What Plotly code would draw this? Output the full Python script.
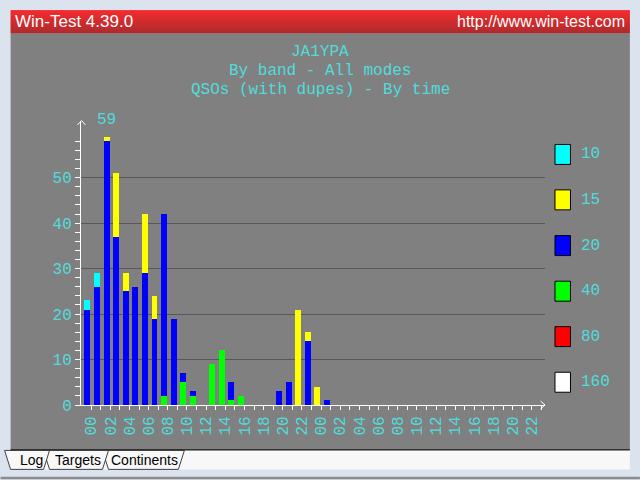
import plotly.graph_objects as go

# ---------------- data ----------------
hours = list(range(48))
x_tick_hours = [0, 2, 4, 6, 8, 10, 12, 14, 16, 18, 20, 22,
                24, 26, 28, 30, 32, 34, 36, 38, 40, 42, 44, 46]
x_tick_labels = ["00", "02", "04", "06", "08", "10", "12", "14", "16", "18", "20", "22",
                 "00", "02", "04", "06", "08", "10", "12", "14", "16", "18", "20", "22"]
y_tick_vals = [0, 10, 20, 30, 40, 50]
y_tick_labels = ["0", "10", "20", "30", "40", "50"]
max_label = "59"

q160 = [0, 0, 0, 0, 0, 0, 0, 0, 0, 0, 0, 0, 0, 0, 0, 0, 0, 0, 0, 0, 0, 0, 0, 0,
        0, 0, 0, 0, 0, 0, 0, 0, 0, 0, 0, 0, 0, 0, 0, 0, 0, 0, 0, 0, 0, 0, 0, 0]
q80 = [0, 0, 0, 0, 0, 0, 0, 0, 0, 0, 0, 0, 0, 0, 0, 0, 0, 0, 0, 0, 0, 0, 0, 0,
       0, 0, 0, 0, 0, 0, 0, 0, 0, 0, 0, 0, 0, 0, 0, 0, 0, 0, 0, 0, 0, 0, 0, 0]
q40 = [0, 0, 0, 0, 0, 0, 0, 0, 2, 0, 5, 2, 0, 9, 12, 1, 2, 0, 0, 0, 0, 0, 0, 0,
       0, 0, 0, 0, 0, 0, 0, 0, 0, 0, 0, 0, 0, 0, 0, 0, 0, 0, 0, 0, 0, 0, 0, 0]
q20 = [21, 26, 58, 37, 25, 26, 29, 19, 40, 19, 2, 1, 0, 0, 0, 4, 0, 0, 0, 0, 3, 5, 0, 14,
       0, 1, 0, 0, 0, 0, 0, 0, 0, 0, 0, 0, 0, 0, 0, 0, 0, 0, 0, 0, 0, 0, 0, 0]
q15 = [0, 0, 1, 14, 4, 0, 13, 5, 0, 0, 0, 0, 0, 0, 0, 0, 0, 0, 0, 0, 0, 0, 21, 2,
       4, 0, 0, 0, 0, 0, 0, 0, 0, 0, 0, 0, 0, 0, 0, 0, 0, 0, 0, 0, 0, 0, 0, 0]
q10 = [2, 3, 0, 0, 0, 0, 0, 0, 0, 0, 0, 0, 0, 0, 0, 0, 0, 0, 0, 0, 0, 0, 0, 0,
       0, 0, 0, 0, 0, 0, 0, 0, 0, 0, 0, 0, 0, 0, 0, 0, 0, 0, 0, 0, 0, 0, 0, 0]

band_names = ["10", "15", "20", "40", "80", "160"]

# ---------------- styles ----------------
CYAN = "#50dcdc"
GRAY = "#808080"
FRAME = "#dbe4ee"
band_colors = {"10": "#00ffff", "15": "#ffff00", "20": "#0000ff",
               "40": "#00ff00", "80": "#ff0000", "160": "#ffffff"}
MONO = "Liberation Mono, Courier New, monospace"
HEAD = "Liberation Sans, Arial, sans-serif"
SANS = "Liberation Sans, Arial, sans-serif"

W, H = 640, 480
AX_LEFT, AX_RIGHT = 80.5, 545.0
AX_TOP, AX_BOTTOM = 121.0, 405.5
HOUR0_PX, PX_PER_HOUR = 90.7, 9.59
PX_PER_UNIT = 4.554

x_range = [(AX_LEFT - HOUR0_PX) / PX_PER_HOUR, (AX_RIGHT - HOUR0_PX) / PX_PER_HOUR]
y_range = [0, (AX_BOTTOM - AX_TOP) / PX_PER_UNIT]
PW, PH = AX_RIGHT - AX_LEFT, AX_BOTTOM - AX_TOP


def fx(px):
    return (px - AX_LEFT) / PW


def fy(py):
    return (AX_BOTTOM - py) / PH


fig = go.Figure()
stack = [("160", q160), ("80", q80), ("40", q40), ("20", q20), ("15", q15), ("10", q10)]
for name, vals in stack:
    fig.add_bar(x=hours, y=vals, name=name, marker_color=band_colors[name],
                marker_line_width=0, width=0.62, offset=-0.70,
                showlegend=False, hoverinfo="skip")

shapes = []


def rect(x0, y0, x1, y1, fill, line=None, lw=0, layer="below"):
    d = dict(type="rect", xref="paper", yref="paper",
             x0=fx(x0), x1=fx(x1), y0=fy(y0), y1=fy(y1),
             fillcolor=fill, layer=layer, line=dict(width=lw, color=line or fill))
    shapes.append(d)


def poly(pts, fill, line, lw=1, layer="below"):
    path = "M " + " L ".join(f"{fx(a):.5f},{fy(b):.5f}" for a, b in pts) + " Z"
    shapes.append(dict(type="path", xref="paper", yref="paper", path=path,
                       fillcolor=fill, line=dict(color=line, width=lw), layer=layer))


def seg(pts, color, lw=1, layer="above"):
    path = "M " + " L ".join(f"{fx(a):.5f},{fy(b):.5f}" for a, b in pts)
    shapes.append(dict(type="path", xref="paper", yref="paper", path=path,
                       line=dict(color=color, width=lw), layer=layer))


# gray panel
rect(10, 33, 630, 450, GRAY)
# red header gradient
n = 23
for i in range(n):
    r = int(250 - (250 - 165) * i / (n - 1))
    rect(10, 10 + i, 630, 11 + i, f"rgb({r},0,0)")
# bottom separator and tab strip
rect(10, 451, 630, 470, "#f8f8f8")
rect(0, 477.5, 640, 480, "#8c8c8c")
# tabs (back to front)
poly([(102, 451), (108, 470), (178, 470), (184, 451)], "#f8f8f8", "#404040")
poly([(43, 451), (49, 470), (102, 470), (108, 451)], "#f8f8f8", "#404040")
poly([(4, 451), (10, 470), (43, 470), (49, 451)], "#f8f8f8", "#404040")
rect(10, 449.5, 630, 451, "#303030")

# axis arrowheads
seg([(77, 125), (81, 120.5), (85, 125)], "white", 1)
seg([(540.5, 401.5), (545, 405.5), (540.5, 409.5)], "white", 1)

# legend boxes
legend_y = [154.5, 200, 245.8, 291.5, 337, 382.7]
for name, cy in zip(band_names, legend_y):
    rect(555, cy - 10, 570.5, cy + 10, band_colors[name], line="black", lw=1, layer="above")

annotations = []


def text(s, x, y, xanchor="left", size=16, color=CYAN, family=MONO):
    annotations.append(dict(text=s, x=fx(x), y=fy(y), xref="paper", yref="paper",
                            xanchor=xanchor, yanchor="middle", showarrow=False,
                            font=dict(size=size, color=color, family=family)))


text("Win-Test 4.39.0", 12, 21.5, "left", 17, "white", HEAD)
text("http://www.win-test.com", 627, 21.5, "right", 16, "white", HEAD)
text("JA1YPA", 320, 52, "center")
text("By band - All modes", 320, 71, "center")
text("QSOs (with dupes) - By time", 320, 90, "center")
text(max_label, 106, 120, "center")
for name, cy in zip(band_names, legend_y):
    text(name, 579, cy, "left")
text("Log", 17, 461, "left", 14, "black", SANS)
text("Targets", 52, 461, "left", 14, "black", SANS)
text("Continents", 109, 461, "left", 14, "black", SANS)

fig.update_layout(
    barmode="stack", bargap=0,
    width=W, height=H,
    margin=dict(l=AX_LEFT, r=W - AX_RIGHT, t=AX_TOP, b=H - AX_BOTTOM, pad=0, autoexpand=False),
    paper_bgcolor=FRAME, plot_bgcolor=GRAY,
    showlegend=False,
    font=dict(family=MONO, size=16, color=CYAN),
    shapes=shapes, annotations=annotations,
    xaxis=dict(range=x_range, tickmode="array", tickvals=x_tick_hours, ticktext=x_tick_labels,
               tickangle=-90, ticks="outside", ticklen=4, tickcolor="white", tickwidth=1,
               showline=True, linecolor="white", linewidth=1, showgrid=False, zeroline=False,
               tickfont=dict(family=MONO, size=16, color=CYAN), fixedrange=True,
               minor=dict(tickmode="array", tickvals=[h for h in hours if h % 2 == 1],
                          ticks="outside", ticklen=4, tickcolor="white", showgrid=False)),
    yaxis=dict(range=y_range, tickmode="array", tickvals=y_tick_vals, ticktext=y_tick_labels,
               ticks="outside", ticklen=5, tickcolor="white", tickwidth=1,
               showline=True, linecolor="white", linewidth=1,
               showgrid=True, gridcolor="#585858", gridwidth=1, zeroline=False,
               tickfont=dict(family=MONO, size=16, color=CYAN), fixedrange=True,
               minor=dict(tickmode="array", tickvals=[v for v in range(2, 60, 2) if v % 10 != 0],
                          ticks="outside", ticklen=5, tickcolor="white", showgrid=False)),
)

fig.write_html("out.html", config={"displayModeBar": False},
               post_script="document.body.style.margin='0';document.body.style.overflow='hidden';")
